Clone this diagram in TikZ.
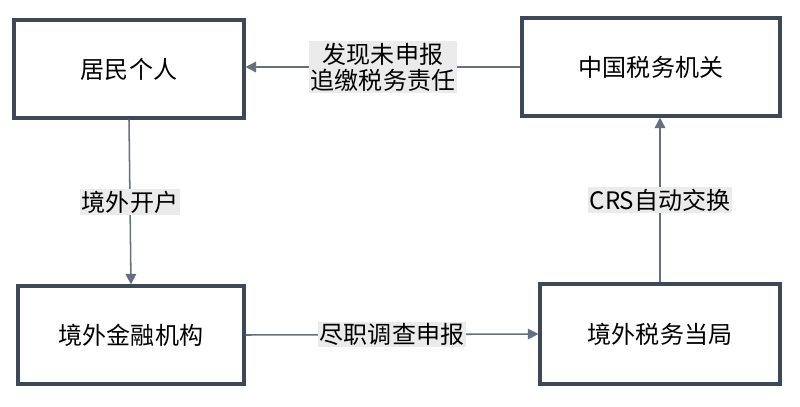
\documentclass[tikz,border=0pt]{standalone}
\usepackage{fontspec}
\setmainfont{Noto Sans CJK SC}
\usetikzlibrary{arrows.meta}
\definecolor{bd}{HTML}{3F4857}
\definecolor{ln}{HTML}{647080}
\definecolor{lb}{HTML}{EBEBEB}
\begin{document}
\begin{tikzpicture}[x=0.03cm,y=-0.03cm,
 box/.style={draw=bd,line width=2.6pt,fill=white,inner sep=0pt,font=\fontsize{20.5}{24}\selectfont},
 con/.style={draw=ln,line width=1.3pt,-{Triangle[length=9pt,width=9pt]}},
 lab/.style={fill=lb,inner sep=1.5pt,font=\fontsize{20.5}{24}\selectfont,align=center}]
\useasboundingbox (0,0) rectangle (800,406);
\node[box,minimum width=6.9cm,minimum height=2.94cm] (a) at (129,69) {居民个人};
\node[box,minimum width=7.74cm,minimum height=2.94cm] (b) at (651,67) {中国税务机关};
\node[box,minimum width=6.78cm,minimum height=2.94cm] (c) at (131,335) {境外金融机构};
\node[box,minimum width=7.2cm,minimum height=3.0cm] (d) at (660,334) {境外税务当局};
\draw[con] (b.west |- 0,67) -- (a.east |- 0,67) node[midway,lab,font=\fontsize{20.5}{22}\selectfont] {发现未申报\\追缴税务责任};
\draw[con] (a.south) -- (c.north) node[midway,lab] {境外开户};
\draw[con] (c.east) -- (d.west) node[midway,lab] {尽职调查申报};
\draw[con] (d.north) -- (b.south -| d.north) node[midway,lab] {CRS自动交换};
\end{tikzpicture}
\end{document}
